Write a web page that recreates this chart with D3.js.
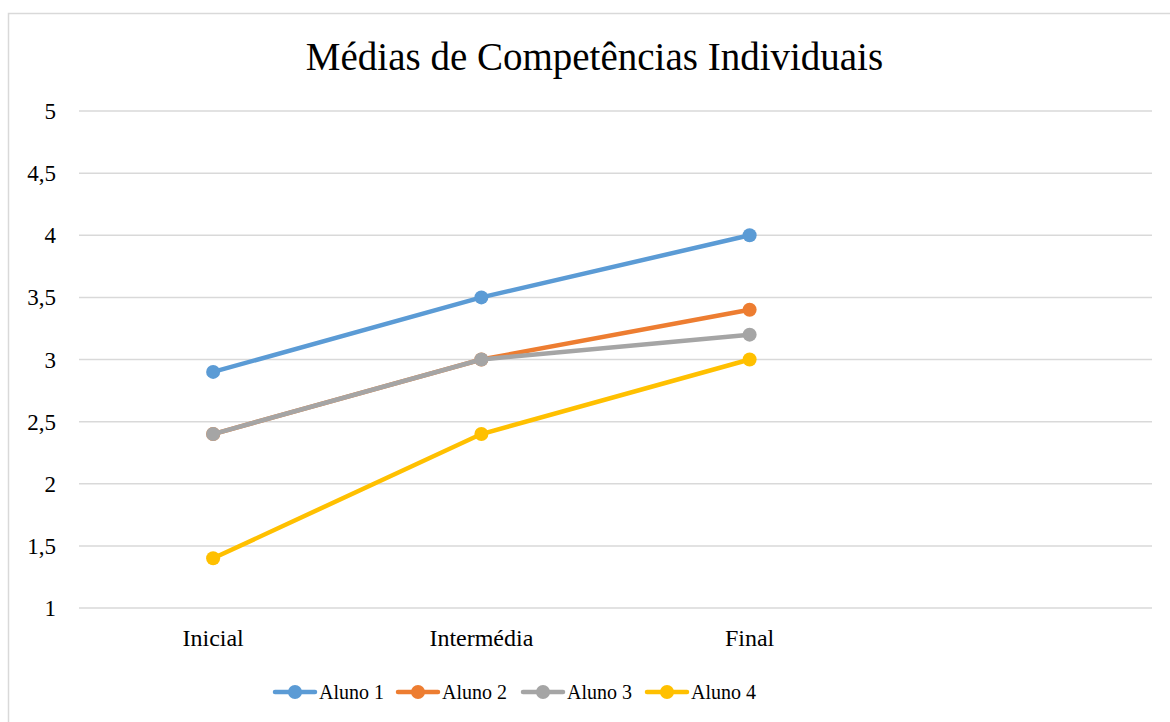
<!DOCTYPE html>
<html>
<head>
<meta charset="utf-8">
<script src="https://cdn.jsdelivr.net/npm/d3@7"></script>
<style>
  body { margin: 0; background: #fff; }
  text { font-family: "Liberation Serif", "DejaVu Serif", serif; fill: #000; }
</style>
</head>
<body>
<div id="chart"></div>
<script>
const categories = ["Inicial", "Intermédia", "Final", ""];
const seriesNames = ["Aluno 1", "Aluno 2", "Aluno 3", "Aluno 4"];
const seriesColors = ["#5B9BD5", "#ED7D31", "#A5A5A5", "#FFC000"];
const aluno1 = [2.9, 3.5, 4.0];
const aluno2 = [2.4, 3.0, 3.4];
const aluno3 = [2.4, 3.0, 3.2];
const aluno4 = [1.4, 2.4, 3.0];
const yTicks = [1, 1.5, 2, 2.5, 3, 3.5, 4, 4.5, 5];

const allSeries = [aluno1, aluno2, aluno3, aluno4];

const width = 1170, height = 722;
const margin = { top: 111, right: 18, bottom: 114, left: 79 };
const innerW = width - margin.left - margin.right;
const innerH = height - margin.top - margin.bottom;

const svg = d3.select("#chart").append("svg")
    .attr("width", width)
    .attr("height", height);

// chart border
svg.append("rect")
    .attr("x", 8.5).attr("y", 13.5)
    .attr("width", 1200).attr("height", 800)
    .attr("fill", "#fff")
    .attr("stroke", "#d9d9d9")
    .attr("stroke-width", 1.5);

svg.append("text")
    .attr("x", 594.5)
    .attr("y", 70)
    .attr("text-anchor", "middle")
    .style("font-size", "39px")
    .text("Médias de Competências Individuais");

const g = svg.append("g")
    .attr("transform", `translate(${margin.left},${margin.top})`);

const x = d3.scaleBand()
    .domain(categories.map((c, i) => i))
    .range([0, innerW]);

const y = d3.scaleLinear()
    .domain([1, 5])
    .range([innerH, 0]);

// gridlines
g.selectAll(".grid")
    .data(yTicks)
    .enter().append("line")
    .attr("x1", 0).attr("x2", innerW)
    .attr("y1", d => y(d)).attr("y2", d => y(d))
    .attr("stroke", "#d9d9d9")
    .attr("stroke-width", 1.5);

const fmt = d => String(d).replace(".", ",");

g.selectAll(".ytick")
    .data(yTicks)
    .enter().append("text")
    .attr("x", -23)
    .attr("y", d => y(d))
    .attr("dy", "0.35em")
    .attr("text-anchor", "end")
    .style("font-size", "23px")
    .text(fmt);

g.selectAll(".xtick")
    .data(categories)
    .enter().append("text")
    .attr("x", (d, i) => x(i) + x.bandwidth() / 2)
    .attr("y", innerH + 30)
    .attr("dy", "0.35em")
    .attr("text-anchor", "middle")
    .style("font-size", "24px")
    .text(d => d);

const line = d3.line()
    .x((d, i) => x(i) + x.bandwidth() / 2)
    .y(d => y(d));

allSeries.forEach((vals, s) => {
    g.append("path")
        .datum(vals)
        .attr("fill", "none")
        .attr("stroke", seriesColors[s])
        .attr("stroke-width", 4.5)
        .attr("stroke-linecap", "round")
        .attr("d", line);
    g.selectAll(".pt" + s)
        .data(vals)
        .enter().append("circle")
        .attr("cx", (d, i) => x(i) + x.bandwidth() / 2)
        .attr("cy", d => y(d))
        .attr("r", 7)
        .attr("fill", seriesColors[s]);
});

// legend
const legendX = [275, 398, 523, 647];
const legendY = 692;
const leg = svg.append("g");
seriesNames.forEach((name, s) => {
    const lx = legendX[s];
    leg.append("line")
        .attr("x1", lx).attr("x2", lx + 40)
        .attr("y1", legendY).attr("y2", legendY)
        .attr("stroke", seriesColors[s])
        .attr("stroke-width", 4.5)
        .attr("stroke-linecap", "round");
    leg.append("circle")
        .attr("cx", lx + 20).attr("cy", legendY)
        .attr("r", 7)
        .attr("fill", seriesColors[s]);
    leg.append("text")
        .attr("x", lx + 44)
        .attr("y", legendY)
        .attr("dy", "0.35em")
        .style("font-size", "20px")
        .text(name);
});
</script>
</body>
</html>
